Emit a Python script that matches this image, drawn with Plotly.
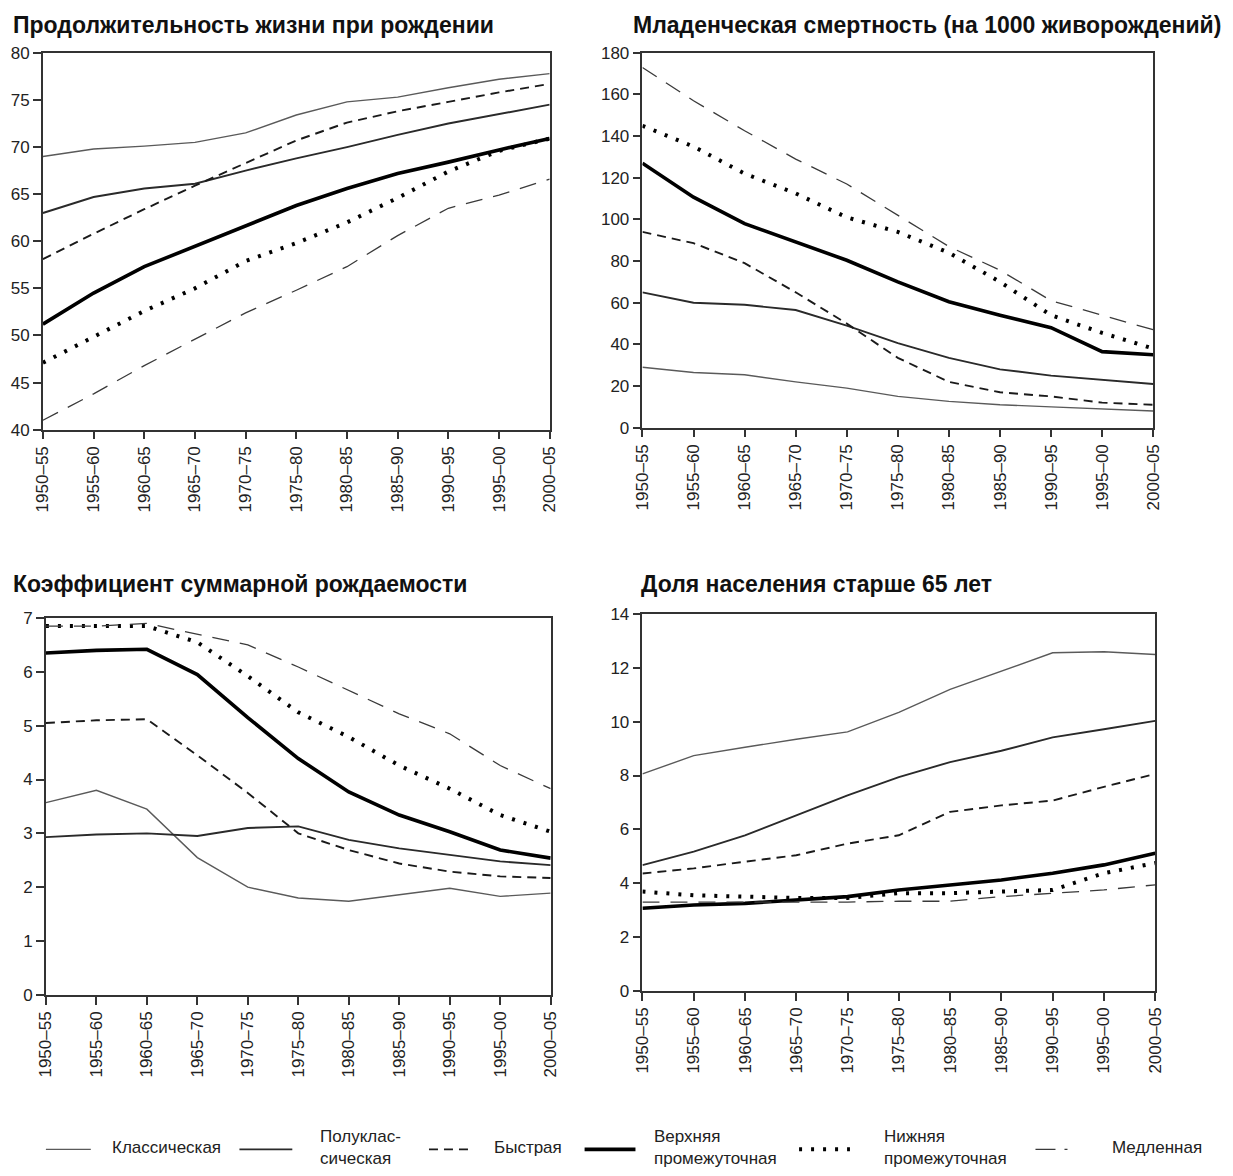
import plotly.graph_objects as go
from plotly.subplots import make_subplots

W, H = 1233, 1176
# empirical correction of the photographed page (observed = OFF + SCALE * page px)
OFF, SCALE = 8.0, 0.987

periods = ["1950–55", "1955–60", "1960–65", "1965–70", "1970–75", "1975–80",
           "1980–85", "1985–90", "1990–95", "1995–00", "2000–05"]

series_names = ["Классическая", "Полуклассическая", "Быстрая",
                "Верхняя промежуточная", "Нижняя промежуточная", "Медленная"]
legend_labels = ["Классическая", "Полуклас-<br>сическая", "Быстрая",
                 "Верхняя<br>промежуточная", "Нижняя<br>промежуточная", "Медленная"]

# Продолжительность жизни при рождении
life_classic = [69.0, 69.8, 70.1, 70.5, 71.5, 73.4, 74.8, 75.3, 76.3, 77.2, 77.8]
life_semi = [63.0, 64.7, 65.6, 66.1, 67.5, 68.8, 70.0, 71.3, 72.5, 73.5, 74.5]
life_rapid = [58.1, 60.8, 63.4, 65.9, 68.3, 70.7, 72.6, 73.8, 74.8, 75.8, 76.7]
life_upper = [51.2, 54.5, 57.3, 59.5, 61.6, 63.8, 65.6, 67.2, 68.4, 69.7, 70.9]
life_lower = [47.1, 49.9, 52.6, 55.0, 57.9, 59.8, 62.0, 64.6, 67.4, 69.6, 70.9]
life_slow = [41.0, 43.8, 46.8, 49.6, 52.4, 54.8, 57.3, 60.6, 63.5, 64.9, 66.6]

# Младенческая смертность
imr_classic = [29.0, 26.5, 25.4, 22.0, 19.0, 15.0, 12.6, 11.0, 10.0, 9.0, 8.0]
imr_semi = [65.0, 60.0, 59.0, 56.5, 49.0, 40.6, 33.5, 28.0, 25.0, 23.0, 21.0]
imr_rapid = [94.0, 88.6, 79.0, 65.0, 50.0, 33.5, 22.0, 17.0, 15.0, 12.0, 11.0]
imr_upper = [127.0, 110.7, 98.0, 89.0, 80.4, 70.0, 60.5, 54.0, 48.0, 36.5, 35.0]
imr_lower = [145.0, 135.0, 122.0, 112.5, 101.0, 94.0, 84.0, 70.0, 54.0, 45.5, 38.0]
imr_slow = [173.0, 157.0, 142.6, 129.0, 117.0, 102.0, 87.0, 75.6, 61.0, 54.0, 47.0]

# Коэффициент суммарной рождаемости
tfr_classic = [3.57, 3.80, 3.45, 2.55, 2.00, 1.80, 1.74, 1.86, 1.98, 1.83, 1.89]
tfr_semi = [2.93, 2.98, 3.00, 2.95, 3.10, 3.13, 2.88, 2.72, 2.60, 2.48, 2.41]
tfr_rapid = [5.05, 5.10, 5.12, 4.45, 3.75, 3.00, 2.69, 2.44, 2.29, 2.20, 2.17]
tfr_upper = [6.35, 6.40, 6.42, 5.95, 5.15, 4.39, 3.77, 3.34, 3.03, 2.69, 2.54]
tfr_lower = [6.85, 6.85, 6.85, 6.55, 5.92, 5.25, 4.79, 4.26, 3.83, 3.34, 3.03]
tfr_slow = [6.85, 6.85, 6.90, 6.70, 6.50, 6.09, 5.65, 5.22, 4.85, 4.26, 3.83]

# Доля населения старше 65 лет
old_classic = [8.06, 8.74, 9.05, 9.35, 9.62, 10.35, 11.20, 11.88, 12.56, 12.60, 12.50]
old_semi = [4.67, 5.17, 5.78, 6.52, 7.26, 7.94, 8.50, 8.92, 9.42, 9.72, 10.03]
old_rapid = [4.36, 4.55, 4.80, 5.04, 5.47, 5.78, 6.65, 6.89, 7.07, 7.58, 8.06]
old_upper = [3.07, 3.19, 3.25, 3.37, 3.50, 3.75, 3.94, 4.12, 4.37, 4.68, 5.11]
old_lower = [3.69, 3.55, 3.50, 3.45, 3.45, 3.63, 3.63, 3.70, 3.75, 4.37, 4.75]
old_slow = [3.30, 3.30, 3.30, 3.30, 3.30, 3.33, 3.33, 3.50, 3.63, 3.75, 3.94]

titles = ["Продолжительность жизни при рождении",
          "Младенческая смертность (на 1000 живорождений)",
          "Коэффициент суммарной рождаемости",
          "Доля населения старше 65 лет"]

panels = [
    [life_classic, life_semi, life_rapid, life_upper, life_lower, life_slow],
    [imr_classic, imr_semi, imr_rapid, imr_upper, imr_lower, imr_slow],
    [tfr_classic, tfr_semi, tfr_rapid, tfr_upper, tfr_lower, tfr_slow],
    [old_classic, old_semi, old_rapid, old_upper, old_lower, old_slow],
]
y_ranges = [(40, 80, 5), (0, 180, 20), (0, 7, 1), (0, 14, 2)]

# Styles (color, width, dash)
styles = [
    ("#5a5a5a", 1.4, "solid"),
    ("#2a2a2a", 1.9, "solid"),
    ("#1a1a1a", 1.9, "9px,6px"),
    ("#000000", 3.6, "solid"),
    ("#000000", 4.0, "3px,9px"),
    ("#3a3a3a", 1.3, "17px,11px"),
]

# Panel boxes in target pixels: (left, right, top, bottom)
boxes = [(42, 550, 52, 430), (643, 1155, 52, 428),
         (45, 551, 619, 997), (643, 1157, 615, 993)]

def px_x(p):
    return (p - OFF) / SCALE / W

def px_y(p):
    return 1 - (p - OFF) / SCALE / H

FONT = "Liberation Sans, Arial, sans-serif"

fig = make_subplots(rows=2, cols=2)

axis_font = dict(family=FONT, size=17, color="#222")
x_idx = list(range(len(periods)))

for k, (data, (lo, hi, step), box) in enumerate(zip(panels, y_ranges, boxes)):
    r, c = k // 2 + 1, k % 2 + 1
    for s, (vals, (col, w, dash)) in enumerate(zip(data, styles)):
        fig.add_trace(go.Scatter(x=x_idx, y=vals, mode="lines",
                                 line=dict(color=col, width=w, dash=dash),
                                 name=series_names[s], showlegend=False),
                      row=r, col=c)
    l, rgt, t, b = box
    axn = "" if k == 0 else str(k + 1)
    fig.layout["xaxis" + axn].update(
        domain=[px_x(l), px_x(rgt)], range=[0, len(periods) - 1],
        tickmode="array", tickvals=x_idx, ticktext=periods, tickangle=-90,
        ticks="outside", ticklen=8, tickwidth=1.5, tickcolor="#333",
        showline=True, linecolor="#333", linewidth=1.5, mirror=True,
        showgrid=False, zeroline=False, tickfont=axis_font)
    fig.layout["yaxis" + axn].update(
        domain=[px_y(b), px_y(t)], range=[lo, hi],
        tickmode="array", tickvals=list(range(lo, hi + 1, step)),
        ticks="outside", ticklen=8, tickwidth=1.5, tickcolor="#333",
        showline=True, linecolor="#333", linewidth=1.5, mirror=True,
        showgrid=False, zeroline=False, tickfont=axis_font)

# Panel titles
title_pos = [(10, 24), (632, 24), (10, 585), (640, 585)]
for txt, (tx, ty) in zip(titles, title_pos):
    fig.add_annotation(text="<b>" + txt + "</b>", x=px_x(tx), y=px_y(ty),
                       xref="paper", yref="paper", xanchor="left", yanchor="middle",
                       showarrow=False,
                       font=dict(family=FONT, size=23, color="#111"))

# Legend (drawn manually to follow the reference layout)
leg_y = 1150
leg_line_y = 1152
leg_samples = [(45, 90), (239, 292), (429, 472), (585, 636), (800, 851), (1037, 1070)]
leg_text_x = [109, 318, 492, 653, 883, 1112]
leg_styles = list(styles)
leg_styles[5] = ("#3a3a3a", 1.3, "20px,9px,3px,20px")
for (x0, x1), tx, lab, (col, w, dash) in zip(leg_samples, leg_text_x, legend_labels, leg_styles):
    fig.add_shape(type="line", xref="paper", yref="paper",
                  x0=px_x(x0), x1=px_x(x1), y0=px_y(leg_line_y), y1=px_y(leg_line_y),
                  line=dict(color=col, width=w, dash=dash))
    fig.add_annotation(text=lab, x=px_x(tx), y=px_y(leg_y), xref="paper", yref="paper",
                       xanchor="left", yanchor="middle", align="left", showarrow=False,
                       font=dict(family=FONT, size=17, color="#222"))

fig.update_layout(width=W, height=H, margin=dict(l=0, r=0, t=0, b=0),
                  paper_bgcolor="white", plot_bgcolor="white", showlegend=False)

fig.write_html("out.html", config={"displayModeBar": False},
               post_script="document.body.style.margin='0';"
                           "document.body.style.overflow='hidden';")
